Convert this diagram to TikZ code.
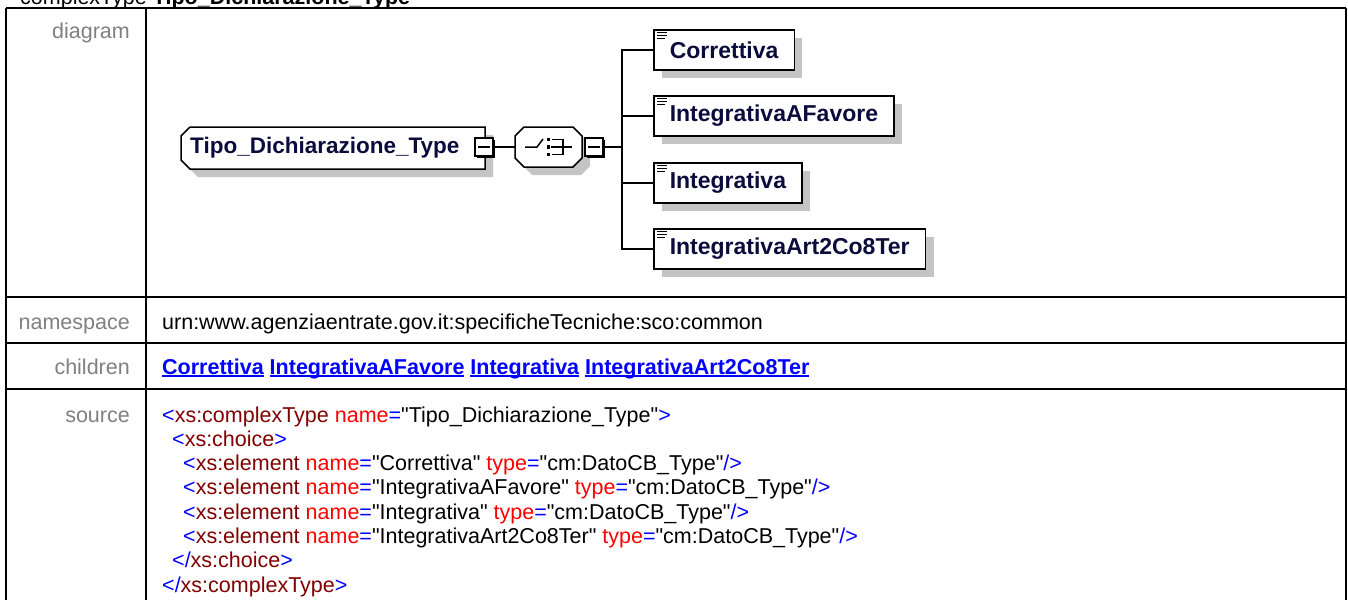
\documentclass[tikz,border=0pt]{standalone}
\usepackage{fontspec}
\setmainfont{Liberation Sans}[Ligatures=TeXOff]
\usetikzlibrary{shadows}

\definecolor{labelgray}{HTML}{808080}
\definecolor{shadowgray}{HTML}{C4C4C4}
\definecolor{elemnavy}{HTML}{0C0C3C}
\definecolor{xmlblue}{HTML}{0000FF}
\definecolor{xmlred}{HTML}{FF0000}
\definecolor{xmltag}{HTML}{800000}

\newcommand{\xb}[1]{\textcolor{xmlblue}{#1}}
\newcommand{\xt}[1]{\textcolor{xmltag}{#1}}
\newcommand{\xa}[1]{\textcolor{xmlred}{#1}}
\newcommand{\xlink}[1]{\textcolor{xmlblue}{\bfseries\setbox0\hbox{#1}\rlap{\rule[-3pt]{\wd0}{1.6pt}}\box0}}

\begin{document}
\begin{tikzpicture}[
  x=1pt,y=-1pt,
  grid/.style={line width=2.6pt},
  lbl/.style={anchor=base east,inner sep=0,text=labelgray,font=\fontsize{21.5}{24}\selectfont},
  txt/.style={anchor=base west,inner sep=0,font=\fontsize{21.5}{24}\selectfont},
  outline/.style={draw,line width=1.5pt,fill=white},
  elem/.style={outline,anchor=west,minimum height=40pt,inner xsep=16pt,inner ysep=0pt,text=elemnavy,font=\bfseries\fontsize{23}{24}\selectfont,
    drop shadow={shadow xshift=8pt,shadow yshift=-8pt,opacity=1,fill=shadowgray}},
  rootlabel/.style={anchor=west,inner sep=0pt,text=elemnavy,font=\bfseries\fontsize{22.5}{24}\selectfont},
  minus/.style={outline,minimum size=18pt,inner sep=0,
    drop shadow={shadow xshift=2pt,shadow yshift=-2pt,opacity=1,fill=black},
    path picture={\draw[line width=1.5pt] ([xshift=3pt]path picture bounding box.west) -- ([xshift=-3pt]path picture bounding box.east);}},
  conn/.style={line width=1.5pt}
]
\useasboundingbox (0,0) rectangle (1348,600);
\fill[white] (0,0) rectangle (1348,600);
\clip (0,0) rectangle (1348,600);

% title and table frame
\node[txt] (title) at (20,4) {complexType \textbf{Tipo\_Dichiarazione\_Type}};
\draw[grid] (6,8) -- (1346,8);
\draw[grid] (6,297) -- (1346,297);
\draw[grid] (6,343) -- (1346,343);
\draw[grid] (6,389) -- (1346,389);
\draw[grid] (6,8) -- (6,600);
\draw[grid] (146,8) -- (146,600);
\draw[grid] (1346,8) -- (1346,600);

\node[lbl] (ldiagram) at (130,38) {diagram};
\node[lbl] (lnamespace) at (130,329) {namespace};
\node[lbl] (lchildren) at (130,374) {children};
\node[lbl] (lsource) at (130,422) {source};

% diagram: complex type and choice
\fill[shadowgray,shift={(8,8)}] (190,127) -- (485,127) -- (485,169) -- (190,169) -- (181,160) -- (181,136) -- cycle;
\draw[outline] (190,127) -- (485,127) -- (485,169) -- (190,169) -- (181,160) -- (181,136) -- cycle;
\node[rootlabel] (root) at (190,148) {Tipo\_Dichiarazione\_Type};

\fill[shadowgray,shift={(8,8)}] (524,127) -- (573,127) -- (582,136) -- (582,158) -- (573,167) -- (524,167) -- (515,158) -- (515,136) -- cycle;
\draw[outline] (524,127) -- (573,127) -- (582,136) -- (582,158) -- (573,167) -- (524,167) -- (515,158) -- (515,136) -- cycle;
\node[minimum width=67pt,minimum height=40pt,inner sep=0pt] (choice) at (548.5,147) {};

\node[minus] (rootminus) at (484,147) {};
\node[minus] (choiceminus) at (594,147) {};
\coordinate (trunk) at (622,147);

\draw[conn] ([shift={(-23.5,0)}]choice.center) -- ++(12,0) -- ++(6,-8);
\fill ([shift={(-1.75,-9.25)}]choice.center) rectangle ++(3.5,3.5);
\fill ([shift={(-1.75,-1.75)}]choice.center) rectangle ++(3.5,3.5);
\fill ([shift={(-1.75,5.75)}]choice.center) rectangle ++(3.5,3.5);
\draw[conn] ([shift={(3,-7.5)}]choice.center) -| ([shift={(14.5,7.5)}]choice.center) -- ([shift={(3,7.5)}]choice.center);
\draw[conn] ([shift={(2,0)}]choice.center) -- ++(21.5,0);

% child elements
\node[elem] (correttiva) at (653,50) {Correttiva};
\node[elem] (favore) at (653,116) {IntegrativaAFavore};
\node[elem] (integrativa) at (653,183) {Integrativa};
\node[elem] (art2co8ter) at (653,249) {IntegrativaArt2Co8Ter};

\draw[conn] (rootminus.east) -- (choice.west);
\draw[conn] (choiceminus.east) -- (trunk);
\draw[conn] (trunk) |- (correttiva.west);
\draw[conn] (trunk) |- (favore.west);
\draw[conn] (trunk) |- (integrativa.west);
\draw[conn] (trunk) |- (art2co8ter.west);

\draw[line width=1.3pt] ([shift={(4,3.5)}]correttiva.north west) -- ++(10,0) ++(-10,3) -- ++(10,0) ++(-10,3) -- ++(8,0);
\draw[line width=1.3pt] ([shift={(4,3.5)}]favore.north west) -- ++(10,0) ++(-10,3) -- ++(10,0) ++(-10,3) -- ++(8,0);
\draw[line width=1.3pt] ([shift={(4,3.5)}]integrativa.north west) -- ++(10,0) ++(-10,3) -- ++(10,0) ++(-10,3) -- ++(8,0);
\draw[line width=1.3pt] ([shift={(4,3.5)}]art2co8ter.north west) -- ++(10,0) ++(-10,3) -- ++(10,0) ++(-10,3) -- ++(8,0);

% namespace, children, source
\node[txt] (namespace) at (162,329) {urn:www.agenziaentrate.gov.it:specificheTecniche:sco:common};
\node[txt] (children) at (162,374) {\xlink{Correttiva} \xlink{IntegrativaAFavore} \xlink{Integrativa} \xlink{IntegrativaArt2Co8Ter}};

\node[txt] (src1) at (162,422) {\xb{<}\xt{xs:complexType} \xa{name}\xb{=}"Tipo\_Dichiarazione\_Type"\xb{>}};
\node[txt] (src2) at (172,446.3) {\xb{<}\xt{xs:choice}\xb{>}};
\node[txt] (src3) at (183,470.6) {\xb{<}\xt{xs:element} \xa{name}\xb{=}"Correttiva" \xa{type}\xb{=}"cm:DatoCB\_Type"\xb{/>}};
\node[txt] (src4) at (183,494.9) {\xb{<}\xt{xs:element} \xa{name}\xb{=}"IntegrativaAFavore" \xa{type}\xb{=}"cm:DatoCB\_Type"\xb{/>}};
\node[txt] (src5) at (183,519.2) {\xb{<}\xt{xs:element} \xa{name}\xb{=}"Integrativa" \xa{type}\xb{=}"cm:DatoCB\_Type"\xb{/>}};
\node[txt] (src6) at (183,543.5) {\xb{<}\xt{xs:element} \xa{name}\xb{=}"IntegrativaArt2Co8Ter" \xa{type}\xb{=}"cm:DatoCB\_Type"\xb{/>}};
\node[txt] (src7) at (172,567.8) {\xb{</}\xt{xs:choice}\xb{>}};
\node[txt] (src8) at (162,592.1) {\xb{</}\xt{xs:complexType}\xb{>}};
\end{tikzpicture}
\end{document}
